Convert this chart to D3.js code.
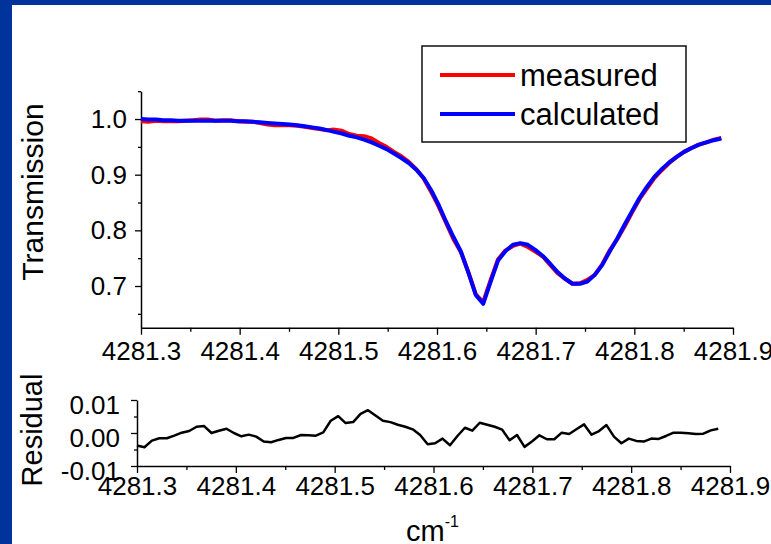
<!DOCTYPE html>
<html><head><meta charset="utf-8">
<script src="https://cdn.jsdelivr.net/npm/d3@7/dist/d3.min.js"></script>
<style>
html,body{margin:0;padding:0;background:#fff;}
svg{display:block;font-family:"Liberation Sans",Arial,sans-serif;}
</style></head>
<body><svg id="c" width="771" height="544"></svg>
<script>
// ---- data ----
const wavenumber = [4281.3000,4281.3075,4281.3151,4281.3226,4281.3302,4281.3377,4281.3452,4281.3528,4281.3603,4281.3679,
4281.3754,4281.3829,4281.3905,4281.3980,4281.4056,4281.4131,4281.4206,4281.4282,4281.4357,4281.4433,
4281.4508,4281.4583,4281.4659,4281.4734,4281.4810,4281.4885,4281.4960,4281.5036,4281.5111,4281.5187,
4281.5262,4281.5337,4281.5413,4281.5488,4281.5564,4281.5639,4281.5714,4281.5790,4281.5865,4281.5941,
4281.6016,4281.6091,4281.6167,4281.6242,4281.6318,4281.6393,4281.6468,4281.6544,4281.6619,4281.6695,
4281.6770,4281.6845,4281.6921,4281.6996,4281.7072,4281.7147,4281.7222,4281.7298,4281.7373,4281.7449,
4281.7524,4281.7599,4281.7675,4281.7750,4281.7826,4281.7901,4281.7976,4281.8052,4281.8127,4281.8203,
4281.8278,4281.8353,4281.8429,4281.8504,4281.8580,4281.8655,4281.8730,4281.8806,4281.8881];

const calculated = [1.000,0.999,0.999,0.998,0.998,0.997,0.997,0.997,0.997,0.997,
0.997,0.997,0.997,0.996,0.996,0.995,0.994,0.993,0.992,0.991,
0.990,0.989,0.987,0.985,0.983,0.980,0.977,0.974,0.970,0.967,
0.963,0.958,0.952,0.946,0.938,0.930,0.921,0.909,0.894,0.872,
0.846,0.816,0.788,0.762,0.724,0.684,0.668,0.708,0.746,0.763,
0.774,0.777,0.774,0.765,0.754,0.740,0.725,0.713,0.704,0.704,
0.708,0.720,0.738,0.762,0.785,0.810,0.834,0.858,0.878,0.896,
0.910,0.922,0.932,0.941,0.948,0.954,0.958,0.962,0.965];

const measured = [0.996,0.995,0.997,0.996,0.996,0.996,0.997,0.998,0.999,0.999,
0.997,0.998,0.998,0.996,0.995,0.995,0.993,0.990,0.989,0.989,
0.989,0.988,0.986,0.984,0.982,0.980,0.981,0.979,0.973,0.970,
0.969,0.965,0.957,0.950,0.941,0.933,0.923,0.910,0.893,0.869,
0.843,0.814,0.784,0.761,0.725,0.685,0.671,0.711,0.748,0.764,
0.772,0.776,0.770,0.762,0.753,0.738,0.723,0.713,0.704,0.705,
0.711,0.720,0.739,0.764,0.784,0.807,0.832,0.856,0.875,0.894,
0.908,0.921,0.932,0.941,0.948,0.954,0.958,0.963,0.966];

const residual = [-0.0038,-0.0043,-0.0023,-0.0016,-0.0016,-0.0008,0.0001,0.0006,0.0019,0.0021,
0.0000,0.0007,0.0013,0.0000,-0.0010,-0.0005,-0.0011,-0.0026,-0.0028,-0.0021,
-0.0015,-0.0015,-0.0006,-0.0007,-0.0008,0.0002,0.0037,0.0051,0.0030,0.0033,
0.0058,0.0069,0.0053,0.0037,0.0033,0.0025,0.0019,0.0011,-0.0006,-0.0034,
-0.0031,-0.0017,-0.0037,-0.0009,0.0016,0.0007,0.0031,0.0025,0.0019,0.0010,
-0.0022,-0.0006,-0.0042,-0.0026,-0.0007,-0.0019,-0.0019,0.0001,-0.0003,0.0012,
0.0026,-0.0005,0.0006,0.0024,-0.0011,-0.0031,-0.0017,-0.0024,-0.0026,-0.0017,
-0.0018,-0.0009,0.0001,0.0001,-0.0001,-0.0003,-0.0002,0.0008,0.0013];

const xTicks = [4281.3,4281.4,4281.5,4281.6,4281.7,4281.8,4281.9];
const xTickLabels = ["4281.3","4281.4","4281.5","4281.6","4281.7","4281.8","4281.9"];
const xMinorTicks = [4281.35,4281.45,4281.55,4281.65,4281.75,4281.85];
const tTicks = [0.7,0.8,0.9,1.0];
const tTickLabels = ["0.7","0.8","0.9","1.0"];
const tMinorTicks = [0.65,0.75,0.85,0.95,1.05];
const rTicks = [-0.01,0,0.01];
const rTickLabels = ["-0.01","0.00","0.01"];
const rMinorTicks = [-0.005,0.005];
const seriesNames = ["measured","calculated"];
const seriesColors = ["#ff0000","#0000ff"];

// ---- drawing ----
const svg = d3.select("#c");
svg.append("rect").attr("x",0).attr("y",0).attr("width",771).attr("height",544).attr("fill","#fff");
svg.append("rect").attr("x",0).attr("y",0).attr("width",771).attr("height",5).attr("fill","#00349c");
svg.append("rect").attr("x",0).attr("y",0).attr("width",12).attr("height",544).attr("fill","#00349c");

const FS = 26;
const x1 = d3.scaleLinear().domain([4281.3,4281.9]).range([141,733]);
const y1 = d3.scaleLinear().domain([0.625,1.05]).range([327.75,91.2]);
const x2 = d3.scaleLinear().domain([4281.3,4281.9]).range([137,730]);
const y2 = d3.scaleLinear().domain([-0.01,0.01]).range([466,400]);

function styleAxis(g){
  g.selectAll("path.domain").attr("stroke","#000").attr("stroke-width",1.5);
  g.selectAll(".tick line").attr("stroke","#000").attr("stroke-width",1.3);
  g.selectAll(".tick text").attr("fill","#000").style("font-size",FS+"px").style("font-family","'Liberation Sans',Arial,sans-serif");
}

// main panel axes
const gx1 = svg.append("g").attr("transform","translate(0,327.75)")
  .call(d3.axisBottom(x1).tickValues(xTicks).tickFormat((d,i)=>xTickLabels[i]).tickSize(7).tickSizeOuter(0).tickPadding(7));
styleAxis(gx1);
const gx1m = svg.append("g").attr("transform","translate(0,327.75)")
  .call(d3.axisBottom(x1).tickValues(xMinorTicks).tickFormat("").tickSize(4).tickSizeOuter(0));
styleAxis(gx1m); gx1m.select("path.domain").remove();

const gy1 = svg.append("g").attr("transform","translate(141,0)")
  .call(d3.axisLeft(y1).tickValues(tTicks).tickFormat((d,i)=>tTickLabels[i]).tickSize(6).tickSizeOuter(0).tickPadding(8));
styleAxis(gy1);
const gy1m = svg.append("g").attr("transform","translate(141,0)")
  .call(d3.axisLeft(y1).tickValues(tMinorTicks).tickFormat("").tickSize(3).tickSizeOuter(0));
styleAxis(gy1m); gy1m.select("path.domain").remove();

// lines
const line1 = (vals)=>d3.line().x((d,i)=>x1(wavenumber[i])).y(d=>y1(d))(vals);
[measured,calculated].forEach((vals,k)=>{
  svg.append("path").attr("d",line1(vals)).attr("fill","none")
    .attr("stroke",seriesColors[k]).attr("stroke-width",4).attr("stroke-linejoin","round");
});

// legend
const lg = svg.append("g");
lg.append("rect").attr("x",422).attr("y",46).attr("width",264).attr("height",96)
  .attr("fill","#fff").attr("stroke","#111").attr("stroke-width",1.5);
seriesNames.forEach((n,k)=>{
  const yy = 75 + k*39;
  lg.append("line").attr("x1",440).attr("x2",515).attr("y1",yy).attr("y2",yy)
    .attr("stroke",seriesColors[k]).attr("stroke-width",4);
  lg.append("text").attr("x",520).attr("y",yy+11).text(n)
    .style("font-size","31px").attr("fill","#000");
});

// axis titles
svg.append("text").attr("transform","translate(43,192) rotate(-90)").attr("text-anchor","middle")
  .style("font-size","30px").text("Transmission");

// residual panel
const gx2 = svg.append("g").attr("transform","translate(0,466)")
  .call(d3.axisBottom(x2).tickValues(xTicks).tickFormat((d,i)=>xTickLabels[i]).tickSize(7).tickSizeOuter(0).tickPadding(4));
styleAxis(gx2);
const gx2m = svg.append("g").attr("transform","translate(0,466)")
  .call(d3.axisBottom(x2).tickValues(xMinorTicks).tickFormat("").tickSize(4).tickSizeOuter(0));
styleAxis(gx2m); gx2m.select("path.domain").remove();

const gy2 = svg.append("g").attr("transform","translate(137,0)")
  .call(d3.axisLeft(y2).tickValues(rTicks).tickFormat((d,i)=>rTickLabels[i]).tickSize(6).tickSizeOuter(0).tickPadding(11));
styleAxis(gy2);
gy2.selectAll(".tick text").attr("dy","0.5em");
const gy2m = svg.append("g").attr("transform","translate(137,0)")
  .call(d3.axisLeft(y2).tickValues(rMinorTicks).tickFormat("").tickSize(3).tickSizeOuter(0));
styleAxis(gy2m); gy2m.select("path.domain").remove();

svg.append("path").attr("d",d3.line().x((d,i)=>x2(wavenumber[i])).y(d=>y2(d))(residual))
  .attr("fill","none").attr("stroke","#000").attr("stroke-width",2.5).attr("stroke-linejoin","round");

svg.append("text").attr("transform","translate(42,430) rotate(-90)").attr("text-anchor","middle")
  .style("font-size","29px").text("Residual");

const xt = svg.append("text").attr("x",406).attr("y",541).style("font-size","29px");
xt.append("tspan").text("cm");
xt.append("tspan").attr("dy",-14).style("font-size","16px").text("-1");
</script>
</body></html>
